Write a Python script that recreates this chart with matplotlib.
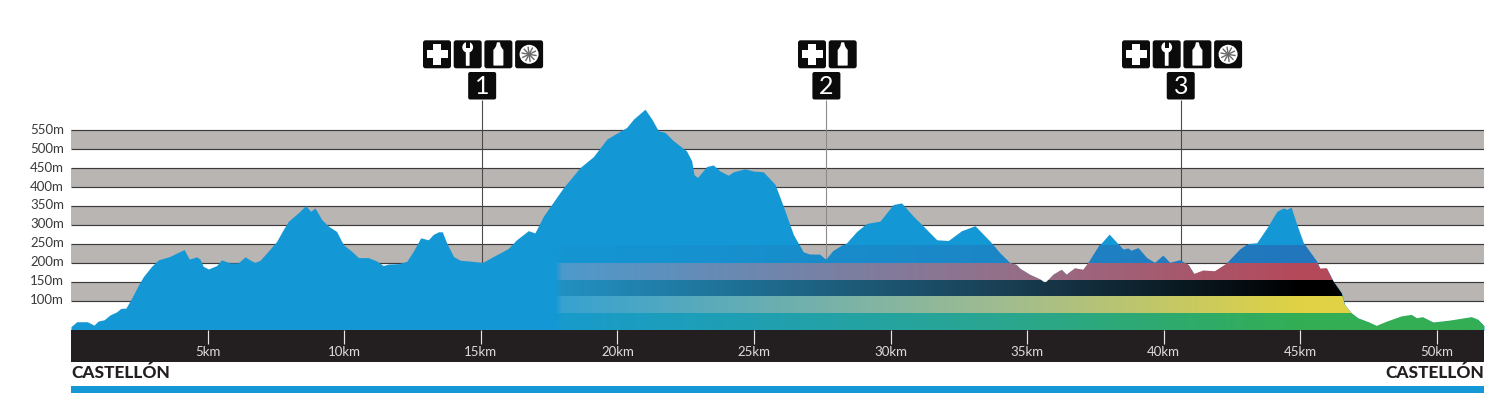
"""Elevation profile of the Castellon course with aid stations and colour stripes."""

import numpy as np
import matplotlib
matplotlib.use("Agg")
import matplotlib.pyplot as plt
from matplotlib.colors import to_rgb
from matplotlib.patches import Circle, FancyBboxPatch, Polygon, Rectangle
from matplotlib.transforms import ScaledTranslation

plt.rcParams["font.family"] = ["Lato", "DejaVu Sans"]

W, H = 1500, 413
PX_LEFT, PX_RIGHT = 71, 1484
PX_BASE, PX_TOP = 330.3, 20
PX_PER_KM = 27.32
PX_PER_M = 0.3795

BLUE = "#1498D5"
DARK = "#231F20"
GREY = "#B9B5B3"
ICON_BG = "#0B0B0B"

km = [0, .21, .6, .84, 1.0, 1.21, 1.43, 1.67, 1.82, 2.01, 2.22, 2.47, 2.65, 2.95, 3.2, 3.62,
      3.81, 4.14, 4.33, 4.6, 4.72, 4.84, 5.03, 5.33, 5.51, 5.82, 6.12, 6.37, 6.55, 6.73, 6.92,
      7.16, 7.53, 7.77, 7.96, 8.32, 8.59, 8.77, 8.93, 9.18, 9.42, 9.72, 9.97, 10.27, 10.52,
      10.88, 11.19, 11.43, 11.62, 11.98, 12.29, 12.53, 12.8, 13.08, 13.26, 13.45, 13.59, 13.75,
      14.0, 14.24, 14.73, 15.06, 15.46, 15.70, 16.0, 16.31, 16.74, 16.98, 17.29, 18.02, 18.63,
      19.12, 19.61, 19.91, 20.34, 20.59, 21.01, 21.26, 21.50, 21.74, 22.05, 22.53, 22.72, 22.8,
      22.93, 23.27, 23.51, 23.76, 24.06, 24.24, 24.67, 24.98, 25.34, 25.77, 26.07, 26.44, 26.81,
      27.05, 27.41, 27.64, 27.90, 28.39, 28.76, 29.12, 29.61, 30.10, 30.4, 30.83, 31.14, 31.69,
      32.11, 32.6, 33.09, 33.64, 34.0, 34.37, 34.61, 34.74, 35.1, 35.47, 35.66, 35.96, 36.26,
      36.44, 36.75, 37.05, 37.24, 37.66, 38.0, 38.33, 38.52, 38.7, 38.82, 39.07, 39.38, 39.68,
      39.98, 40.23, 40.6, 40.9, 41.11, 41.45, 41.87, 42.3, 42.79, 43.1, 43.4, 43.77, 44.14,
      44.38, 44.5, 44.66, 44.87, 45.11, 45.6, 45.72, 45.96, 46.21, 46.51, 46.63, 46.88, 47.12,
      47.49, 47.79, 48.16, 48.71, 49.07, 49.26, 49.48, 49.87, 50.48, 51.27, 51.51, 51.72]
elevation = [32, 45, 45, 36, 47, 50, 63, 71, 80, 81, 107, 142, 164, 191, 208, 217,
             224, 235, 210, 216, 210, 191, 184, 193, 208, 200, 200, 216, 208, 201, 207,
             226, 257, 288, 310, 332, 351, 336, 345, 314, 297, 283, 248, 231, 214,
             214, 205, 193, 197, 198, 204, 231, 266, 261, 275, 282, 282, 253,
             217, 207, 204, 201, 217, 226, 238, 261, 285, 279, 323, 398, 451,
             480, 526, 539, 557, 579, 605, 579, 548, 544, 522, 495, 469, 433,
             425, 454, 458, 442, 431, 440, 448, 442, 440, 407, 350, 275, 228,
             222, 222, 208, 231, 253, 283, 304, 310, 354, 358, 323, 301, 261,
             259, 285, 298, 257, 226, 200, 195, 185, 169, 157, 147, 169, 182,
             169, 186, 182, 200, 248, 276, 250, 235, 238, 232, 239, 213, 200,
             219, 200, 207, 195, 171, 180, 178, 198, 235, 251, 253, 292, 336,
             345, 341, 347, 301, 253, 204, 185, 186, 151, 120, 89, 67, 54,
             44, 34, 45, 59, 63, 54, 57, 43, 48, 57, 50, 34]

y_ticks = [100, 150, 200, 250, 300, 350, 400, 450, 500, 550]
x_ticks = [5, 10, 15, 20, 25, 30, 35, 40, 45, 50]
shaded_bands = [(100, 150), (200, 250), (300, 350), (400, 450), (500, 550)]

stripe_edges = [244, 199, 155, 111, 66, 22]
gradient_km = [17.7, 17.95, 34.0, 45.0]
stripe_colours = [
    [BLUE, "#1496D3", "#1C86C6", "#2276BC"],
    [BLUE, "#4E9ACC", "#94708A", "#B4495A"],
    [BLUE, "#2290C0", "#1A4055", "#000000"],
    [BLUE, "#38A2D0", "#A0BC90", "#E0D244"],
    [BLUE, "#189BCB", "#2AA690", "#33AE55"],
]

station_km = [15.05, 27.65, 40.62]
station_line_colours = ["#4A4A4A", "#8E8B8A", "#4A4A4A"]
station_labels = ["1", "2", "3"]
station_icons = [["plus", "wrench", "bottle", "wheel"], ["plus", "bottle"],
                 ["plus", "wrench", "bottle", "wheel"]]
station_icon_left = [423, 798, 1122]

town = "CASTELLÓN"


def fig_rect(px_left, px_top, px_right, px_bottom):
    return [px_left / W, 1 - px_bottom / H, (px_right - px_left) / W, (px_bottom - px_top) / H]


def draw_icon(ax, name, x, y, size=28):
    ax.add_patch(FancyBboxPatch((x + 2, y + 2), size - 4, size - 4, boxstyle="round,pad=2,rounding_size=2.5",
                                fc=ICON_BG, ec="none"))
    cx, cy = x + size / 2, y + size / 2
    if name == "plus":
        ax.add_patch(Rectangle((cx - 10.5, cy - 4), 21, 8, fc="white", ec="none"))
        ax.add_patch(Rectangle((cx - 4, cy - 10.5), 8, 21, fc="white", ec="none"))
    elif name == "wrench":
        ax.add_patch(FancyBboxPatch((cx - 1.4, cy - 4), 2.8, 15, boxstyle="round,pad=0.5", fc="white", ec="none"))
        ax.add_patch(Circle((cx, cy - 7), 5.4, fc="white", ec="none"))
        ax.add_patch(Rectangle((cx - 2, cy - 13), 4, 6.5, fc=ICON_BG, ec="none"))
    elif name == "bottle":
        ax.add_patch(FancyBboxPatch((cx - 4.2, cy - 4), 8.4, 14.5, boxstyle="round,pad=0.8", fc="white", ec="none"))
        ax.add_patch(Polygon([(cx - 5, cy - 4), (cx - 2.4, cy - 8), (cx - 1.4, cy - 12), (cx + 1.4, cy - 12),
                              (cx + 2.4, cy - 8), (cx + 5, cy - 4)], fc="white", ec="none"))
    elif name == "wheel":
        ax.add_patch(Circle((cx, cy), 9.5, fc="white", ec="none"))
        for ang in np.deg2rad(np.arange(10, 190, 36)):
            dx, dy = 7 * np.cos(ang), 7 * np.sin(ang)
            ax.plot([cx - dx, cx + dx], [cy - dy, cy + dy], color="#6A6A6A", lw=1.0)
        ax.add_patch(Circle((cx, cy), 1.5, fc=ICON_BG, ec="none"))


def main():
    fig = plt.figure(figsize=(W / 100, H / 100), dpi=100, facecolor="white")

    # main profile axes, scales worked out from the gridlines in pixels
    ax = fig.add_axes(fig_rect(PX_LEFT, PX_TOP, PX_RIGHT, PX_BASE))
    x_max = (PX_RIGHT - PX_LEFT) / PX_PER_KM
    y_top = 22.4 + (PX_BASE - PX_TOP) / PX_PER_M
    ax.patch.set_visible(False)
    for side in ax.spines.values():
        side.set_visible(False)

    for low, high in shaded_bands:
        ax.axhspan(low, high, color=GREY, lw=0, zorder=1)
    ax.hlines(y_ticks, 0, x_max, color="#3C3A3A", lw=0.85, zorder=2)

    ax.set_xticks([])
    ax.set_yticks(y_ticks)
    ax.set_yticklabels([f"{v}m" for v in y_ticks], fontsize=9.5, color="#3A3A3A")
    ax.tick_params(axis="y", length=0, pad=5)
    lift = ScaledTranslation(0, 1.5 / 100, fig.dpi_scale_trans)
    for lab in ax.get_yticklabels():
        lab.set_transform(lab.get_transform() + lift)

    callout_top = 22.4 + (PX_BASE - 100) / PX_PER_M
    for pos, col in zip(station_km, station_line_colours):
        ax.vlines(pos, 30, callout_top, color=col, lw=0.8, zorder=3)

    ax.fill_between(km, 22.4, elevation, color=BLUE, lw=0, zorder=4)

    # fading colour stripes, clipped by the profile outline
    outline = Polygon(list(zip(km, elevation)) + [(km[-1], 22.4), (km[0], 22.4)], closed=True,
                      transform=ax.transData, fc="none", ec="none")
    ax.add_patch(outline)
    xs = np.linspace(gradient_km[0], x_max, 800)
    for i, cols in enumerate(stripe_colours):
        rgb = np.array([to_rgb(c) for c in cols])
        row = np.stack([np.interp(xs, gradient_km, rgb[:, ch]) for ch in range(3)], axis=-1)
        im = ax.imshow(row[np.newaxis, :, :], extent=(xs[0], xs[-1], stripe_edges[i + 1], stripe_edges[i]),
                       aspect="auto", origin="upper", zorder=5, interpolation="bilinear")
        im.set_clip_path(outline)
    ax.set_xlim(0, x_max)
    ax.set_ylim(22.4, y_top)

    # km strip
    band = fig.add_axes(fig_rect(PX_LEFT, PX_BASE, PX_RIGHT, 361.7), facecolor=DARK)
    band.set_xlim(0, x_max)
    band.set_ylim(0, 1)
    band.set_yticks([])
    band.set_xticks([])
    for side in band.spines.values():
        side.set_visible(False)
    band.vlines(x_ticks, 0.57, 1, color="#E6E6E6", lw=0.85)
    for t in x_ticks:
        band.text(t, 0.31, f"{t}km", color="#DDDBDB", fontsize=9.5, ha="center", va="center")

    # overlay in pixel coordinates for the icons and footer
    over = fig.add_axes([0, 0, 1, 1], zorder=10)
    over.set_xlim(0, W)
    over.set_ylim(H, 0)
    over.axis("off")

    over.add_patch(Rectangle((PX_LEFT, 386.2), PX_RIGHT - PX_LEFT, 6.6, fc=BLUE, ec="none"))
    over.text(PX_LEFT, 373.5, town, fontsize=12.4, fontweight="black", color=DARK, ha="left", va="center")
    over.text(PX_RIGHT, 373.5, town, fontsize=12.4, fontweight="black", color=DARK, ha="right", va="center")

    for pos, label, icons, left in zip(station_km, station_labels, station_icons, station_icon_left):
        for n, name in enumerate(icons):
            draw_icon(over, name, left + n * 30.7, 40.3)
        cx = PX_LEFT + pos * PX_PER_KM
        over.add_patch(FancyBboxPatch((cx - 12, 74), 24, 23.5, boxstyle="round,pad=2,rounding_size=2",
                                      fc=ICON_BG, ec="none"))
        over.text(cx, 86, label, color="white", fontsize=18, ha="center", va="center")

    fig.savefig("out.png", dpi=100, facecolor="white")
    plt.close(fig)


if __name__ == "__main__":
    main()
